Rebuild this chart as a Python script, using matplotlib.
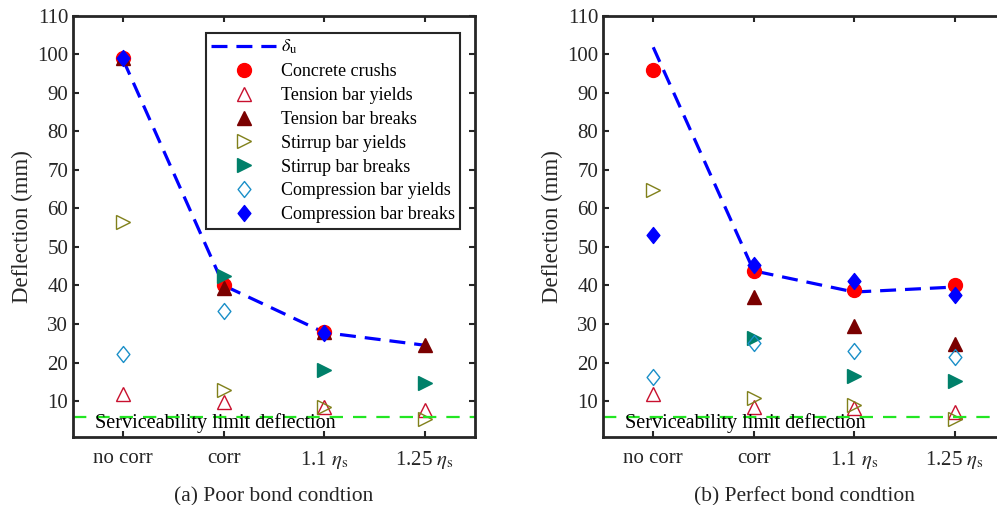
import numpy as np
import matplotlib
matplotlib.use("Agg")
import matplotlib.pyplot as plt
from matplotlib.path import Path

plt.rcParams["font.family"] = "serif"
plt.rcParams["font.serif"] = ["Liberation Serif", "DejaVu Serif"]
plt.rcParams["mathtext.fontset"] = "stix"

nan = np.nan
cases = ["no corr", "corr", r"1.1 $\eta_\mathrm{s}$", r"1.25 $\eta_\mathrm{s}$"]
serv_limit = 6.0

# (a) poor bond
poor_du = [98.5, 40.0, 27.8, 24.5]
poor_concrete = [99.0, 40.2, 28.0, nan]
poor_tens_yield = [11.8, 9.8, 8.6, 7.6]
poor_tens_break = [99.0, 39.3, 28.0, 24.6]
poor_stir_yield = [56.4, 12.8, 8.4, 5.3]
poor_stir_break = [nan, 42.5, 18.1, 14.8]
poor_comp_yield = [22.2, 33.3, nan, nan]
poor_comp_break = [99.0, nan, 27.8, nan]

# (b) perfect bond
perf_du = [101.8, 43.8, 38.3, 39.6]
perf_concrete = [96.0, 43.8, 38.7, 40.2]
perf_tens_yield = [11.9, 8.6, 8.3, 7.2]
perf_tens_break = [nan, 37.1, 29.6, 24.8]
perf_stir_yield = [64.8, 10.9, 9.0, 5.4]
perf_stir_break = [nan, 26.5, 16.4, 15.3]
perf_comp_yield = [16.3, 25.0, 23.1, 21.4]
perf_comp_break = [53.1, 45.3, 41.1, 37.6]

diamond = Path([(0, 1), (0.8, 0), (0, -1), (-0.8, 0), (0, 1)],
               [Path.MOVETO, Path.LINETO, Path.LINETO, Path.LINETO, Path.CLOSEPOLY])

styles = [
    ("Concrete crushs", dict(marker="o", color="#ff0000", mfc="#ff0000", ms=10)),
    ("Tension bar yields", dict(marker="^", color="#c8102e", mfc="none", ms=10, mew=1.0)),
    ("Tension bar breaks", dict(marker="^", color="#7a0000", mfc="#7a0000", ms=10)),
    ("Stirrup bar yields", dict(marker=">", color="#80801a", mfc="none", ms=10, mew=1.0)),
    ("Stirrup bar breaks", dict(marker=">", color="#00806a", mfc="#00806a", ms=10)),
    ("Compression bar yields", dict(marker=diamond, color="#1a8fc8", mfc="none", ms=11.5, mew=1.0)),
    ("Compression bar breaks", dict(marker=diamond, color="#0000ff", mfc="#0000ff", ms=11.5)),
]

fig = plt.figure(figsize=(9.97, 5.05), dpi=100)
ax_a = fig.add_axes([0.0732, 0.1347, 0.4032, 0.8343])
ax_b = fig.add_axes([0.6048, 0.1347, 0.4032, 0.8343])

panels = [
    (ax_a, "(a) Poor bond condtion", poor_du,
     [poor_concrete, poor_tens_yield, poor_tens_break, poor_stir_yield,
      poor_stir_break, poor_comp_yield, poor_comp_break]),
    (ax_b, "(b) Perfect bond condtion", perf_du,
     [perf_concrete, perf_tens_yield, perf_tens_break, perf_stir_yield,
      perf_stir_break, perf_comp_yield, perf_comp_break]),
]

x = np.arange(1, len(cases) + 1)
for ax, title, du, series in panels:
    ax.plot(x, du, color="#0000ff", lw=2.3, dashes=(5, 2.8), label=r"$\delta_\mathrm{u}$")
    for (name, st), vals in zip(styles, series):
        ax.plot(x, vals, ls="none", label=name, **st)
    ax.axhline(serv_limit, color="#22e622", lw=1.6, dashes=(6, 4.5))
    ax.text(0.715, 4.2, "Serviceability limit deflection", fontsize=14.5, va="center", ha="left")
    ax.set_xlim(0.5, 4.5)
    ax.set_ylim(0.7, 110)
    ax.set_yticks(np.arange(10, 111, 10))
    ax.set_xticks(x)
    ax.set_xticklabels(cases)
    ax.tick_params(direction="in", top=True, right=True, length=4, width=1.5,
                   labelsize=15, colors="#262626")
    ax.tick_params(axis="y", pad=3.5)
    ax.tick_params(axis="x", pad=9)
    for sp in ax.spines.values():
        sp.set_linewidth(2)
        sp.set_color("#262626")
    ax.set_ylabel("Deflection (mm)", fontsize=16.5, color="#262626", labelpad=3)
    ax.set_xlabel(title, fontsize=15.5, color="#262626", labelpad=11)

leg = ax_a.legend(loc="upper right", bbox_to_anchor=(0.963, 0.96), borderaxespad=0,
                  fontsize=13, handlelength=3.6, handletextpad=0.25, labelspacing=0.38,
                  borderpad=0.3, fancybox=False, framealpha=1)
leg.get_frame().set_edgecolor("#262626")
leg.get_frame().set_linewidth(1.5)

fig.savefig("out.png", dpi=100)
